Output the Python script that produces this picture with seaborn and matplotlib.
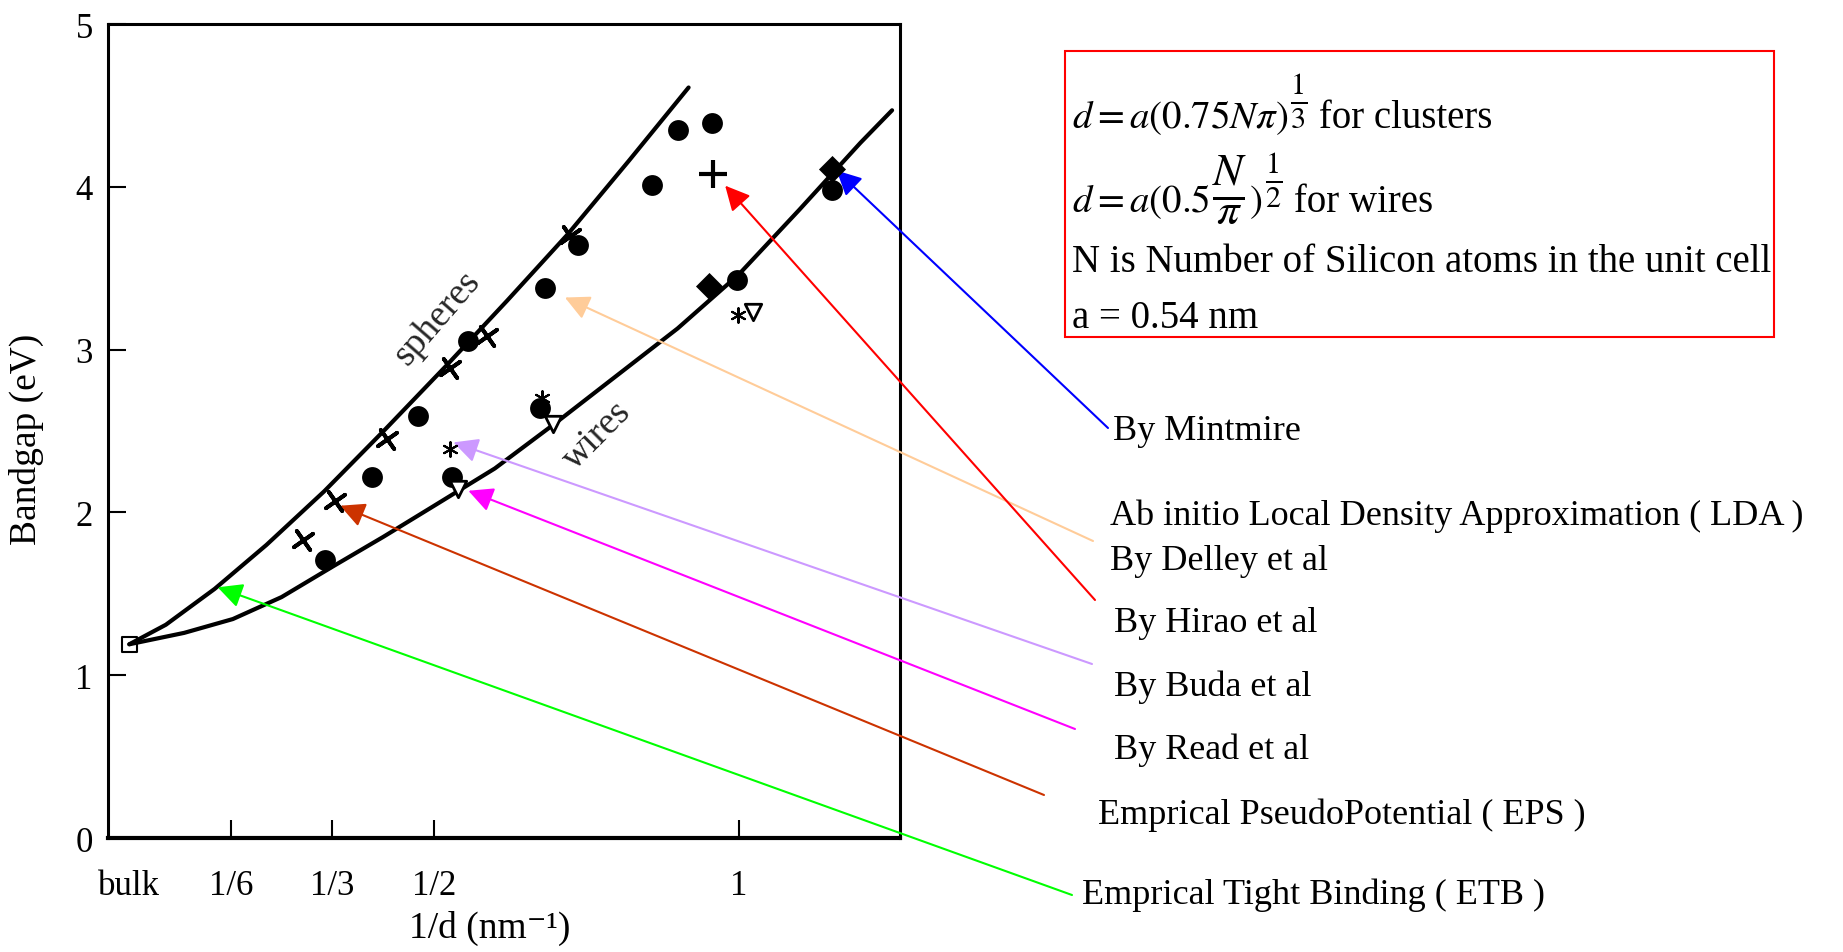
import matplotlib
matplotlib.use("Agg")
import matplotlib.pyplot as plt
import seaborn as sns
from matplotlib.patches import Rectangle

W, H = 1843, 953

# values: x = 1/d (nm^-1), y = bandgap (eV)
spheres_x = [0.0, 0.06, 0.14, 0.225, 0.32, 0.42, 0.52, 0.62, 0.72, 0.82, 0.918]
spheres_y = [1.19, 1.31, 1.53, 1.80, 2.13, 2.51, 2.90, 3.30, 3.71, 4.16, 4.61]
wires_x = [0.0, 0.09, 0.17, 0.25, 0.335, 0.417, 0.5, 0.6, 0.7, 0.8, 0.9, 1.0, 1.1, 1.2, 1.252]
wires_y = [1.19, 1.26, 1.345, 1.48, 1.67, 1.85, 2.04, 2.27, 2.55, 2.84, 3.13, 3.46, 3.86, 4.27, 4.47]

circle_x = [0.3215, 0.398, 0.474, 0.529, 0.5565, 0.674, 0.682, 0.737, 0.8575, 0.901, 0.956, 0.997, 1.153]
circle_y = [1.71, 2.22, 2.59, 2.22, 3.05, 2.64, 3.38, 3.64, 4.01, 4.35, 4.39, 3.43, 3.98]
cross_x = [0.2856, 0.3377, 0.4225, 0.5264, 0.5867, 0.7234]
cross_y = [1.83, 2.07, 2.45, 2.89, 3.085, 3.70]
plus_x = [0.9587]
plus_y = [4.08]
diamond_x = [0.951, 1.153]
diamond_y = [3.39, 4.11]
star_x = [0.5264, 0.677, 0.9997]
star_y = [2.39, 2.70, 3.21]
tri_x = [0.540, 0.696, 1.024]
tri_y = [2.144, 2.543, 3.228]
bulk_x = [0.0]
bulk_y = [1.19]

tick_vals = [0, 1/6, 1/3, 1/2, 1]
tick_labels = ['bulk', '1/6', '1/3', '1/2', '1']

# what each arrow points at (data) and its label
arrow_x = [1.161, 0.715, 0.978, 0.532, 0.5565, 0.346, 0.145]
arrow_y = [4.10, 3.32, 4.007, 2.43, 2.133, 2.041, 1.54]
arrow_colors = ['#0000FF', '#FFCC99', '#FF0000', '#CC99FF', '#FF00FF', '#CC3300', '#00FF00']
labels = ['By Mintmire', 'Ab initio Local Density Approximation ( LDA )', 'By Delley et al',
          'By Hirao et al', 'By Buda et al', 'By Read et al',
          'Emprical PseudoPotential ( EPS )', 'Emprical Tight Binding ( ETB )']

# layout (figure pixels)
tails = [(1108, 429), (1093, 542), (1095, 601), (1092, 665), (1075, 730), (1044, 796), (1072, 896)]
label_pos = [(1113, 432), (1110, 516), (1110, 561), (1114, 624), (1114, 687), (1114, 750),
             (1098, 815), (1082, 895)]

sns.set_theme(style="white")
plt.rcParams['font.family'] = ['Liberation Serif', 'DejaVu Serif']
plt.rcParams['mathtext.fontset'] = 'stix'

fig = plt.figure(figsize=(W / 100, H / 100), dpi=100)
ax = fig.add_axes([108 / W, 1 - 839 / H, (900 - 108) / W, (839 - 25) / H])

sns.lineplot(x=spheres_x, y=spheres_y, ax=ax, color='black', lw=3, errorbar=None)
sns.lineplot(x=wires_x, y=wires_y, ax=ax, color='black', lw=3, errorbar=None)

sns.scatterplot(x=circle_x, y=circle_y, ax=ax, marker='o', s=225, color='black',
                edgecolor='black', linewidth=0, zorder=4)
sns.scatterplot(x=cross_x, y=cross_y, ax=ax, marker=(4, 2, 35), s=280, color='black',
                linewidth=2.8, zorder=4)
sns.scatterplot(x=plus_x, y=plus_y, ax=ax, marker='+', s=380, color='black',
                linewidth=3, zorder=4)
sns.scatterplot(x=diamond_x, y=diamond_y, ax=ax, marker='D', s=190, color='black',
                edgecolor='black', linewidth=0, zorder=4)
sns.scatterplot(x=star_x, y=star_y, ax=ax, marker=(6, 2, 0), s=110, color='black',
                linewidth=1.5, zorder=4)
sns.scatterplot(x=tri_x, y=tri_y, ax=ax, marker='v', s=140, facecolor='white',
                edgecolor='black', linewidth=2, zorder=4)
sns.scatterplot(x=bulk_x, y=bulk_y, ax=ax, marker='s', s=110, facecolor='none',
                edgecolor='black', linewidth=1.5, zorder=4)

ax.text(0.505, 3.20, 'spheres', fontsize=27, rotation=49, ha='center', va='center',
        rotation_mode='anchor')
ax.text(0.768, 2.48, 'wires', fontsize=27, rotation=45, ha='center', va='center',
        rotation_mode='anchor')

ax.set_xlim(-0.035, 1.265)
ax.set_ylim(0, 5)
ax.set_xticks(tick_vals)
ax.set_xticklabels(tick_labels)
ax.set_yticks(range(6))
ax.tick_params(axis='both', direction='in', length=13, width=1.5, color='black',
               labelcolor='black', labelsize=25)
ax.tick_params(axis='x', pad=22, bottom=True)
ax.tick_params(axis='y', pad=11, left=True)
ax.xaxis.get_major_ticks()[0].tick1line.set_visible(False)
for name, sp in ax.spines.items():
    sp.set_color('black')
    sp.set_linewidth(2.2)
ax.spines['bottom'].set_linewidth(3)

ax.set_xlabel('1/d (nm\u207b\u00b9)', fontsize=27, va='center', color='black')
ax.xaxis.set_label_coords(0.482, -0.110)
ax.set_ylabel('Bandgap (eV)', fontsize=27, va='center', color='black')
ax.yaxis.set_label_coords(-0.1035, 0.491)

for tx, ty, c, (px, py) in zip(arrow_x, arrow_y, arrow_colors, tails):
    ax.annotate('', xy=(tx, ty), xycoords='data', xytext=(px / W, 1 - py / H),
                textcoords='figure fraction', annotation_clip=False,
                arrowprops=dict(arrowstyle='-|>,head_length=0.5,head_width=0.25',
                                mutation_scale=30, color=c, lw=1.5,
                                shrinkA=0, shrinkB=0))

for s, (px, py) in zip(labels, label_pos):
    fig.text(px / W, 1 - py / H, s, fontsize=26, ha='left', va='center', color='black')

# formula box
fig.add_artist(Rectangle((1065 / W, 1 - 338 / H), (1774 - 1065) / W, (338 - 52) / H,
                         transform=fig.transFigure, fill=False, edgecolor='red', lw=1.5))

renderer = fig.canvas.get_renderer()


def text_run(x, base, pieces):
    # pieces: (text, fontsize, raise in px) placed one after another
    for s, size, up in pieces:
        t = fig.text(x / W, 1 - (base - up) / H, s, fontsize=size, ha='left',
                     va='baseline', color='black')
        x = t.get_window_extent(renderer=renderer).x1 + 2


text_run(1072, 128, [(r'$d=a(0.75N\pi)$', 28, 0), (r'$\frac{1}{3}$', 31, 18),
                     (' for clusters', 28, 0)])
text_run(1072, 212, [(r'$d=a(0.5$', 28, 0), (r'$\frac{N}{\pi}$', 46, 2), (r'$)$', 28, 0),
                     (r'$\frac{1}{2}$', 31, 22), (' for wires', 28, 0)])
text_run(1072, 272, [('N is Number of Silicon atoms in the unit cell', 28, 0)])
text_run(1072, 328, [('a = 0.54 nm', 28, 0)])

fig.savefig('out.png', dpi=100)
